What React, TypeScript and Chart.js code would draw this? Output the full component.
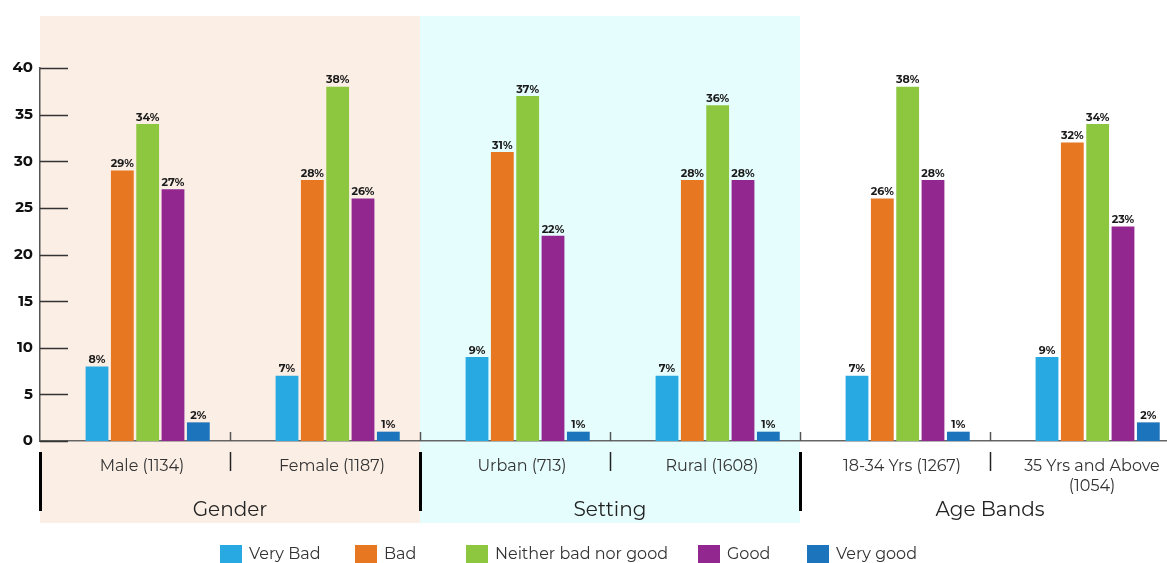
import React, { useEffect, useRef } from 'react';
import { Chart, registerables } from 'chart.js';

Chart.register(...registerables);

const FONT = 'Montserrat, Inter, "Open Sans", sans-serif';

const categories: string[][] = [
  ['Male (1134)'],
  ['Female (1187)'],
  ['Urban (713)'],
  ['Rural (1608)'],
  ['18-34 Yrs (1267)'],
  ['35 Yrs and Above', '(1054)'],
];

const seriesNames = ['Very Bad', 'Bad', 'Neither bad nor good', 'Good', 'Very good'];
const seriesColors = ['#29A9E1', '#E87722', '#8DC63F', '#92278F', '#1C75BC'];

const veryBad = [8, 7, 9, 7, 7, 9];
const bad = [29, 28, 31, 28, 26, 32];
const neither = [34, 38, 37, 36, 38, 34];
const good = [27, 26, 22, 28, 28, 23];
const veryGood = [2, 1, 1, 1, 1, 2];
const spacerSeries: (number | null)[] = [null, null, null, null, null, null];

const groupNames = ['Gender', 'Setting', 'Age Bands'];
const groupBackgrounds = ['#FBEEE5', '#E6FDFD', 'rgba(0,0,0,0)'];
const yTickValues = [0, 5, 10, 15, 20, 25, 30, 35, 40];

// legend box x positions (layout)
const legendBoxX = [220, 355, 466, 698, 807];

export default function App() {
  const canvasRef = useRef<HTMLCanvasElement | null>(null);

  useEffect(() => {
    const canvas = canvasRef.current;
    if (!canvas) return;

    const values = [veryBad, bad, neither, good, veryGood];

    const catBound = (x: any, i: number) => {
      const step = x.width / categories.length;
      return x.left + i * step;
    };

    const decorPlugin = {
      id: 'decor',
      beforeDraw(chart: any) {
        const ctx = chart.ctx;
        const x = chart.scales.x;
        ctx.save();
        groupNames.forEach((_, g) => {
          const l = catBound(x, g * 2);
          const r = catBound(x, g * 2 + 2);
          ctx.fillStyle = groupBackgrounds[g];
          ctx.fillRect(l, 16, r - l, 523 - 16);
        });
        ctx.restore();
      },
      afterDatasetsDraw(chart: any) {
        const ctx = chart.ctx;
        ctx.save();
        ctx.font = `bold 11px ${FONT}`;
        ctx.fillStyle = '#1a1a1a';
        ctx.textAlign = 'center';
        ctx.textBaseline = 'bottom';
        chart.data.datasets.forEach((ds: any, di: number) => {
          if (di === 0) return;
          const meta = chart.getDatasetMeta(di);
          meta.data.forEach((bar: any, i: number) => {
            const v = ds.data[i];
            if (v == null) return;
            ctx.fillText(`${v}%`, bar.x, bar.y - 1);
          });
        });
        ctx.restore();
      },
      afterDraw(chart: any) {
        const ctx = chart.ctx;
        const x = chart.scales.x;
        const y = chart.scales.y;
        const area = chart.chartArea;
        ctx.save();
        // y inner ticks
        ctx.strokeStyle = '#333';
        ctx.lineWidth = 1.5;
        yTickValues.forEach((v) => {
          const py = Math.round(y.getPixelForValue(v)) + 0.5;
          ctx.beginPath();
          ctx.moveTo(area.left, py);
          ctx.lineTo(area.left + 28, py);
          ctx.stroke();
        });
        // x inner ticks at category boundaries
        ctx.strokeStyle = '#555';
        ctx.lineWidth = 1.5;
        for (let i = 1; i < categories.length; i++) {
          const px = Math.round(catBound(x, i)) + 0.5;
          ctx.beginPath();
          ctx.moveTo(px, area.bottom - 9);
          ctx.lineTo(px, area.bottom);
          ctx.stroke();
        }
        // separators below axis
        for (let i = 0; i < categories.length; i++) {
          const px = Math.round(catBound(x, i)) + 0.5;
          ctx.beginPath();
          if (i % 2 === 0) {
            ctx.strokeStyle = '#000';
            ctx.lineWidth = 3;
            ctx.moveTo(px, 452);
            ctx.lineTo(px, 511);
          } else {
            ctx.strokeStyle = '#222';
            ctx.lineWidth = 1.5;
            ctx.moveTo(px, 452);
            ctx.lineTo(px, 471);
          }
          ctx.stroke();
        }
        // group labels
        ctx.font = `20px ${FONT}`;
        ctx.fillStyle = '#222';
        ctx.textAlign = 'center';
        ctx.textBaseline = 'middle';
        groupNames.forEach((name, g) => {
          const c = (catBound(x, g * 2) + catBound(x, g * 2 + 2)) / 2;
          ctx.fillText(name, c, 510);
        });
        // legend
        ctx.font = `16px ${FONT}`;
        ctx.textAlign = 'left';
        seriesNames.forEach((name, i) => {
          const bx = legendBoxX[i];
          ctx.fillStyle = seriesColors[i];
          ctx.fillRect(bx, 545, 22, 19);
          ctx.fillStyle = '#333';
          ctx.fillText(name, bx + 29, 554);
        });
        ctx.restore();
      },
    };

    const chart = new Chart(canvas, {
      type: 'bar',
      data: {
        labels: categories,
        datasets: [
          {
            label: 'spacer',
            data: spacerSeries,
            backgroundColor: 'rgba(0,0,0,0)',
          },
          ...seriesNames.map((name, i) => ({
            label: name,
            data: values[i],
            backgroundColor: seriesColors[i],
          })),
        ] as any,
      },
      options: {
        responsive: false,
        animation: false,
        devicePixelRatio: 1,
        layout: { padding: { top: 68, left: 0, right: 0, bottom: 0 } },
        datasets: {
          bar: { categoryPercentage: 0.8, barPercentage: 0.9 },
        } as any,
        plugins: {
          legend: { display: false },
          title: { display: false },
          tooltip: { enabled: false },
        },
        scales: {
          x: {
            grid: { display: false, drawTicks: false },
            border: { display: true, color: '#666', width: 1.5 },
            ticks: {
              autoSkip: false,
              maxRotation: 0,
              minRotation: 0,
              padding: 15,
              labelOffset: 7,
              color: '#333',
              font: { family: FONT, size: 16, lineHeight: 1.25 },
            },
            afterFit(scale: any) {
              scale.height = 563 - 441;
            },
          },
          y: {
            min: 0,
            max: 40,
            grid: { display: false, drawTicks: false },
            border: { display: true, color: '#555', width: 1.5 },
            ticks: {
              stepSize: 5,
              padding: 7,
              color: '#111',
              font: { family: FONT, size: 15, weight: 'bold' },
            },
            afterFit(scale: any) {
              scale.width = 40;
            },
          },
        },
      } as any,
      plugins: [decorPlugin],
    });

    return () => chart.destroy();
  }, []);

  return (
    <div
      style={{
        position: 'absolute',
        left: 0,
        top: 0,
        width: 1167,
        height: 563,
        overflow: 'hidden',
        background: '#fff',
      }}
    >
      <canvas
        ref={canvasRef}
        width={1180}
        height={563}
        style={{ width: 1180, height: 563, display: 'block' }}
      />
    </div>
  );
}
